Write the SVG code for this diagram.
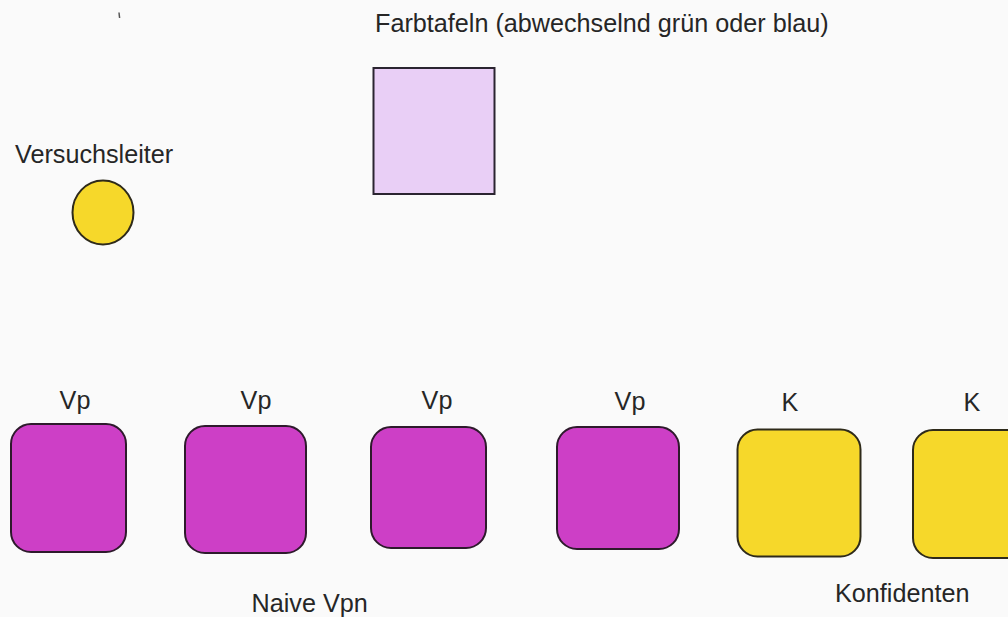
<svg xmlns="http://www.w3.org/2000/svg" width="1008" height="617" viewBox="0 0 1008 617">
  <style>
    text { font-family: "Liberation Sans", Arial, sans-serif; font-size: 25.2px; fill: #262626; }
    .lbl { text-anchor: middle; }
    .vp { fill: #cd3fc6; stroke: #2e1a2c; stroke-width: 2; }
    .k { fill: #f6d82a; stroke: #2e2a1a; stroke-width: 2; }
    .tafel { fill: #e9cff6; stroke: #2a2430; stroke-width: 2; }
  </style>
  <rect x="0" y="0" width="1008" height="617" fill="#fafafa"/>
  <line x1="119" y1="12.5" x2="119.6" y2="18" stroke="#555" stroke-width="1.5"/>

  <g id="versuchsleiter">
    <text x="15" y="163">Versuchsleiter</text>
    <ellipse cx="103" cy="212.5" rx="30.5" ry="32" class="k"/>
  </g>

  <g id="farbtafel">
    <text x="375" y="32">Farbtafeln (abwechselnd grün oder blau)</text>
    <rect x="373.5" y="68" width="121" height="126" class="tafel"/>
  </g>

  <g id="vp1">
    <text class="lbl" x="75" y="409">Vp</text>
    <rect x="11" y="424" width="115" height="128" rx="20" class="vp"/>
  </g>
  <g id="vp2">
    <text class="lbl" x="256" y="409">Vp</text>
    <rect x="185" y="426" width="121" height="127" rx="20" class="vp"/>
  </g>
  <g id="vp3">
    <text class="lbl" x="437" y="409">Vp</text>
    <rect x="371" y="427" width="115" height="121" rx="20" class="vp"/>
  </g>
  <g id="vp4">
    <text class="lbl" x="630" y="410">Vp</text>
    <rect x="557" y="427" width="122" height="122" rx="20" class="vp"/>
  </g>
  <g id="k1">
    <text class="lbl" x="790" y="411">K</text>
    <rect x="737.5" y="429.5" width="123" height="127" rx="20" class="k"/>
  </g>
  <g id="k2">
    <text class="lbl" x="972" y="411">K</text>
    <rect x="913" y="430" width="125" height="128" rx="20" class="k"/>
  </g>

  <g id="naive-vpn">
    <text x="251.5" y="611.5">Naive Vpn</text>
  </g>
  <g id="konfidenten">
    <text x="835" y="602">Konfidenten</text>
  </g>

  <g id="connectors"/>
</svg>
